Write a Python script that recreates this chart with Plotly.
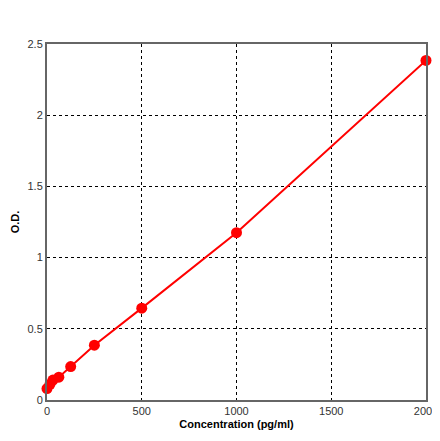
import plotly.graph_objects as go

conc = [0, 15.6, 31.25, 62.5, 125, 250, 500, 1000, 2000]
od = [0.08, 0.11, 0.14, 0.16, 0.235, 0.385, 0.645, 1.175, 2.385]

fig = go.Figure()
fig.add_trace(go.Scatter(x=conc, y=od, mode="lines+markers",
                         line=dict(color="#ff0000", width=2),
                         marker=dict(color="#ff0000", size=11), showlegend=False, cliponaxis=False))
ax = dict(showline=True, linecolor="#666", linewidth=2, mirror=True, ticks="",
          showgrid=True, gridcolor="black", griddash="3px,3px", automargin=False,
          gridwidth=1, zeroline=False, tickfont=dict(family="Arial", size=11, color="#333"))
fig.update_xaxes(range=[0, 2000], tickvals=[0, 500, 1000, 1500, 2000],
                 title=dict(text="<b>Concentration (pg/ml)</b>", font=dict(family="Arial", size=11, color="black"), standoff=4), **ax)
fig.update_yaxes(range=[0, 2.5], tickvals=[0, 0.5, 1, 1.5, 2, 2.5],
                 title=dict(text="<b>O.D.</b>", font=dict(family="Arial", size=11, color="black"), standoff=6), **ax)
fig.update_layout(width=440, height=441, plot_bgcolor="white", paper_bgcolor="white",
                  margin=dict(l=39, r=22, t=36, b=49))
fig.write_html("out.html")
